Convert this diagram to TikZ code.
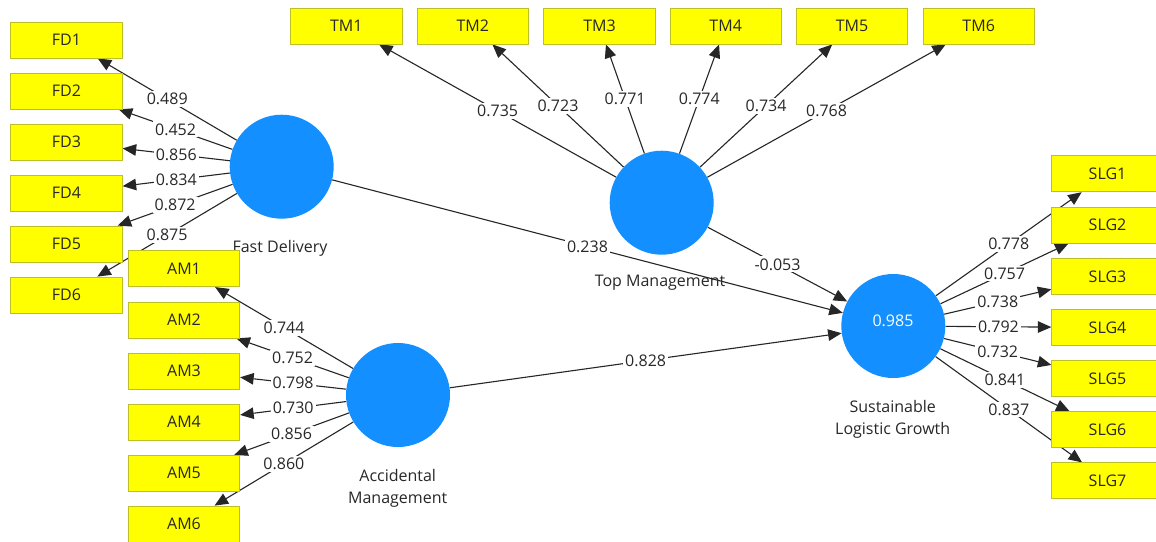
\documentclass[tikz,border=0pt]{standalone}
\usepackage{fontspec}
\setmainfont{Open Sans}
\usetikzlibrary{arrows.meta}
\pgfdeclarelayer{bg}
\pgfdeclarelayer{canvas}
\pgfsetlayers{canvas,bg,main}
\definecolor{boxyellow}{RGB}{255,255,0}
\definecolor{boxedge}{RGB}{190,190,40}
\definecolor{lvblue}{RGB}{20,143,255}
\definecolor{txt}{RGB}{40,40,40}
\begin{document}
\begin{tikzpicture}[x=1pt,y=-1pt,
  lbl/.style={font=\fontsize{16}{22}\selectfont, text=txt},
  ind/.style={lbl, draw=boxedge, fill=boxyellow, line width=0.8pt, minimum width=111.5pt, minimum height=36pt, inner sep=0pt},
  lv/.style={circle, fill=lvblue, minimum size=104pt, inner sep=0pt},
  lvlab/.style={lbl, align=center, inner sep=0pt},
  link/.style={draw=black!85, line width=1.1pt, -{Triangle[length=13.5pt,width=11.5pt]}},
  val/.style={lbl, fill=white, inner sep=2pt}]
\useasboundingbox (0,0) rectangle (1156,541);
\begin{pgfonlayer}{canvas}
\fill[white] (0,0) rectangle (1156,541);
\end{pgfonlayer}
% latent variables
\node[lv] (fd) at (281.7,166.7) {};
\node[lv] (tm) at (661.7,202.7) {};
\node[lv] (am) at (398,395) {};
\node[lv] (slg) at (893.3,326) {};
\node[lbl, text=white, inner sep=0pt] (slgr2) at (893,320.5) {0.985};
\node[lvlab, anchor=base] (fdlab) at (280,252.3) {Fast Delivery};
\node[lvlab, anchor=base] (tmlab) at (660,286.7) {Top Management};
\node[lvlab] (amlab) at (397.7,488.5) {Accidental\\Management};
\node[lvlab] (slglab) at (892.7,419) {Sustainable\\Logistic Growth};
% indicators
\foreach \i/\y in {1/40,2/91,3/142,4/193,5/244,6/295}
  \node[ind] (fd\i) at (66.5,\y) {FD\i};
\foreach \i/\y in {1/268.7,2/320,3/371,4/422,5/473.3,6/524}
  \node[ind] (am\i) at (184,\y) {AM\i};
\foreach \i/\x in {1/346.3,2/472.8,3/599.5,4/725.7,5/852,6/978.7}
  \node[ind] (tm\i) at (\x,26) {TM\i};
\foreach \i/\y in {1/173.8,2/225,3/276.3,4/327.5,5/378.7,6/429.7,7/480.8}
  \node[ind] (slg\i) at (1107.5,\y) {SLG\i};
% connectors
\begin{pgfonlayer}{bg}
\foreach \i/\v in {1/0.489,2/0.452,3/0.856,4/0.834,5/0.872,6/0.875}
  \draw[link] (fd) -- (fd\i) node[val,midway] {\v};
\foreach \i/\v in {1/0.744,2/0.752,3/0.798,4/0.730,5/0.856,6/0.860}
  \draw[link] (am) -- (am\i) node[val,midway] {\v};
\foreach \i/\v in {1/0.735,2/0.723,3/0.771,4/0.774,5/0.734,6/0.768}
  \draw[link] (tm) -- (tm\i) node[val,midway] {\v};
\foreach \i/\v in {1/0.778,2/0.757,3/0.738,4/0.792,5/0.732,6/0.841,7/0.837}
  \draw[link] (slg) -- (slg\i) node[val,midway] {\v};
\draw[link] (fd) -- (slg) node[val,midway] {0.238};
\draw[link] (tm) -- (slg) node[val,midway] {-0.053};
\draw[link] (am) -- (slg) node[val,midway] {0.828};
\end{pgfonlayer}
\end{tikzpicture}
\end{document}
